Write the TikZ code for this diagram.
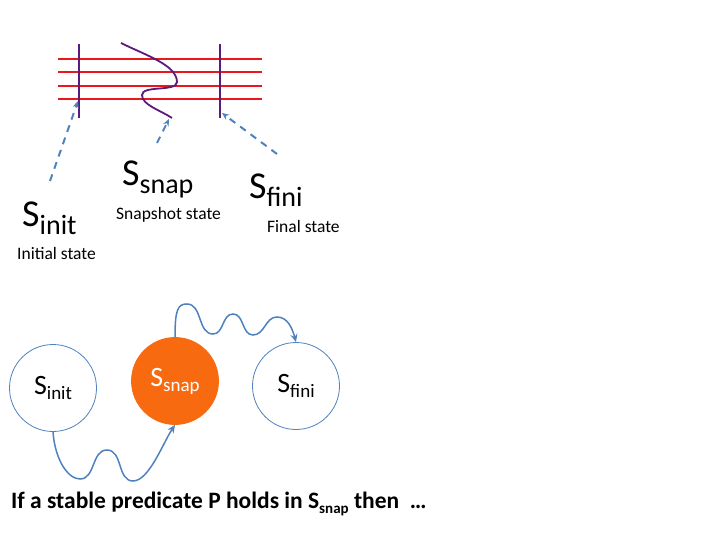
\documentclass[tikz,border=0pt]{standalone}
\usepackage{fontspec}
\setmainfont{Carlito}
\usetikzlibrary{arrows.meta}
\definecolor{linered}{RGB}{232,24,30}
\definecolor{linepurple}{RGB}{92,26,122}
\definecolor{flowblue}{RGB}{79,129,189}
\definecolor{snaporange}{RGB}{248,106,16}
\newcommand{\fs}[1]{\fontsize{#1}{#1}\selectfont}
\newcommand{\stname}[4]{{\fs{#1}S\raisebox{-#3}{\fs{#2}#4}}}
\tikzset{
  grid/.style={linered,line width=2pt},
  cut/.style={linepurple,line width=1.8pt},
  pointer/.style={flowblue,line width=2pt,dash pattern=on 7pt off 6pt,-{Stealth[length=7pt,width=6pt]}},
  flow/.style={flowblue,line width=1.5pt,-{Stealth[length=8pt,width=7pt]}},
  state/.style={circle,draw=flowblue,line width=0.8pt,minimum size=87pt,inner sep=0pt},
  bigname/.style={anchor=base west,inner sep=0pt},
  caption/.style={anchor=base west,inner sep=0pt,font=\fs{17.5}},
}
\begin{document}
\begin{tikzpicture}[x=1pt,y=-1pt]
  \useasboundingbox (0,0) rectangle (720,540);
  % time lines and cuts
  \foreach \y in {59,72,86,99}
    \draw[grid] (58,\y) -- (262,\y);
  \draw[cut] (79,44) -- (79,118);
  \draw[cut] (220,44) -- (220,118);
  \draw[cut] (121,43) .. controls (145,55) and (177,65) .. (177,82)
    .. controls (177,92) and (142,85) .. (142,95)
    .. controls (142,105) and (160,110) .. (172,118);
  % labels
  \node[bigname] (ninit) at (22,226) {\stname{38}{28}{8pt}{init}};
  \node[caption] (capinit) at (17,259) {Initial state};
  \node[bigname] (nsnap) at (122,186) {\stname{38}{28}{8pt}{snap}};
  \node[caption] (capsnap) at (116,219) {Snapshot state};
  \node[bigname] (nfini) at (249,199) {\stname{38}{28}{8pt}{fini}};
  \node[caption] (capfini) at (267,233) {Final state};
  \coordinate (frominit) at (50,181);
  \coordinate (tipinit) at (78,101);
  \coordinate (fromsnap) at (157,143);
  \coordinate (tipsnap) at (169,119);
  \coordinate (fromfini) at (277,154);
  \coordinate (tipfini) at (222,113);
  \draw[pointer] (frominit) -- (tipinit);
  \draw[pointer] (fromsnap) -- (tipsnap);
  \draw[pointer] (fromfini) -- (tipfini);
  % states
  \node[state] (cinit) at (53,388) {\stname{28}{19}{5pt}{init}};
  \node[state,fill=snaporange,draw=snaporange,text=white] (csnap) at (175,381) {\stname{28}{19}{5pt}{snap}};
  \node[state] (cfini) at (296,386) {\stname{28}{19}{5pt}{fini}};
  \draw[flow] (cinit.south) .. controls +(2,28) and +(-12,0) .. (80,479)
    to[out=0,in=180] (107,450) to[out=0,in=180] (133,481)
    .. controls +(16,0) and +(-12,18) .. (csnap.south);
  \draw[flow] (csnap.north) .. controls +(0,-28) and +(-9,0) .. (187,304)
    to[out=0,in=180] (213,334) to[out=0,in=180] (233,314)
    to[out=0,in=180] (253,335) to[out=0,in=180] (277,317)
    .. controls +(10,0) and +(-4,-15) .. (cfini.north);
  \node[anchor=base west,inner sep=0pt,font=\fs{23.5}\bfseries] (claim) at (11,508)
    {If a stable predicate P holds in S\raisebox{-5pt}{\fs{15}snap} then~ …};
\end{tikzpicture}
\end{document}
